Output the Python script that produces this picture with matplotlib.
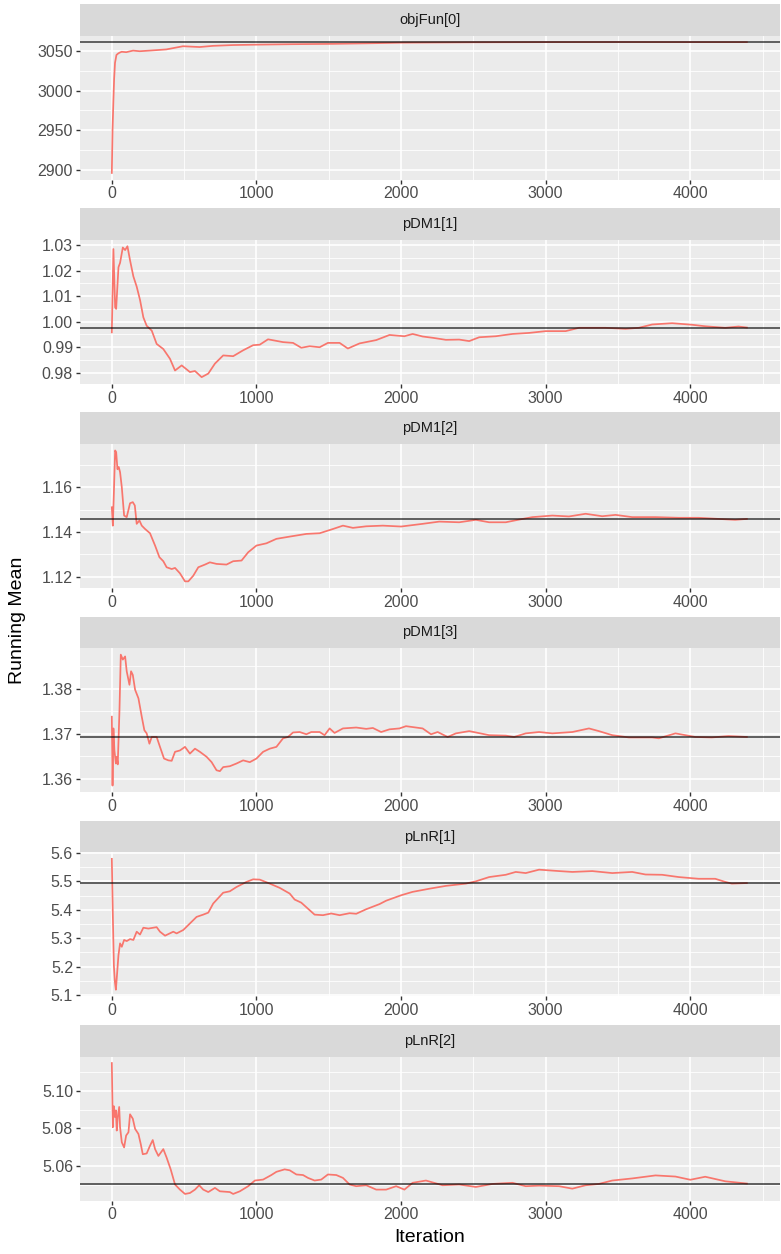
import numpy as np
import matplotlib
matplotlib.use("Agg")
import matplotlib.pyplot as plt
from matplotlib.ticker import MultipleLocator, FormatStrFormatter

plt.rcParams["font.family"] = ["Liberation Sans", "DejaVu Sans"]

# running means (iteration, value)
params = ["objFun[0]", "pDM1[1]", "pDM1[2]", "pDM1[3]", "pLnR[1]", "pLnR[2]"]
hlines = [3061.2, 0.9977, 1.1458, 1.3693, 5.494, 5.0509]

objfun_it = [0, 5, 11, 16, 22, 32, 45, 55, 68, 100, 147, 193, 262, 377, 492, 607, 700, 837,
             998, 1250, 1528, 1800, 2000, 2500, 3000, 3500, 4000, 4391]
objfun_val = [2896, 2950, 2988, 3015, 3035, 3045, 3047, 3048, 3049, 3048.5, 3050.5, 3049.7,
              3050.5, 3052, 3056, 3055, 3056.5, 3057.5, 3058, 3058.6, 3059, 3059.8, 3060.5,
              3061, 3061.2, 3061.3, 3061.2, 3061.2]

pdm1_it = [0, 11, 23, 30, 46, 57, 76, 92, 108, 126, 149, 172, 195, 218, 241, 276, 310, 356,
           402, 437, 483, 540, 575, 621, 667, 713, 770, 839, 908, 977, 1023, 1080, 1184, 1253,
           1310, 1368, 1437, 1494, 1575, 1632, 1713, 1828, 1920, 2023, 2080, 2149, 2218, 2310,
           2402, 2471, 2540, 2655, 2770, 2885, 3000, 3138, 3230, 3414, 3552, 3644, 3736, 3874,
           4011, 4103, 4241, 4333, 4391]
pdm1_val = [0.9958, 1.0284, 1.0056, 1.0050, 1.0213, 1.0230, 1.0290, 1.0280, 1.0295, 1.0240,
            1.0177, 1.0137, 1.0085, 1.0017, 0.9984, 0.9965, 0.9913, 0.9893, 0.9855, 0.9809,
            0.9829, 0.9803, 0.9807, 0.9783, 0.9797, 0.9836, 0.9868, 0.9865, 0.9888, 0.9908,
            0.9910, 0.9931, 0.9920, 0.9917, 0.9898, 0.9904, 0.9900, 0.9917, 0.9917, 0.9895,
            0.9915, 0.9928, 0.9948, 0.9943, 0.9952, 0.9942, 0.9937, 0.9929, 0.9930, 0.9924,
            0.9939, 0.9943, 0.9952, 0.9956, 0.9963, 0.9963, 0.9976, 0.9976, 0.9972, 0.9976,
            0.9989, 0.9994, 0.9988, 0.9982, 0.9976, 0.9981, 0.9977]

pdm2_it = [0, 7, 14, 23, 30, 39, 48, 57, 69, 85, 103, 126, 145, 159, 172, 191, 207, 230, 264,
           299, 329, 356, 379, 414, 437, 471, 506, 529, 563, 598, 644, 678, 724, 793, 839, 897,
           943, 1000, 1069, 1138, 1230, 1345, 1437, 1529, 1598, 1667, 1759, 1874, 2000, 2149,
           2264, 2402, 2517, 2609, 2724, 2816, 2908, 3046, 3161, 3276, 3391, 3483, 3598, 3759,
           3920, 4057, 4195, 4310, 4391]
pdm2_val = [1.1510, 1.1428, 1.1570, 1.1764, 1.1757, 1.1680, 1.1690, 1.1667, 1.1600, 1.1473,
            1.1466, 1.1528, 1.1533, 1.1518, 1.1436, 1.1451, 1.1428, 1.1413, 1.1394, 1.1339,
            1.1287, 1.1269, 1.1242, 1.1234, 1.1239, 1.1215, 1.1179, 1.1179, 1.1204, 1.1242,
            1.1254, 1.1264, 1.1257, 1.1254, 1.1269, 1.1272, 1.1309, 1.1339, 1.1349, 1.1369,
            1.1379, 1.1391, 1.1394, 1.1413, 1.1428, 1.1418, 1.1425, 1.1428, 1.1424, 1.1436,
            1.1446, 1.1443, 1.1454, 1.1443, 1.1443, 1.1455, 1.1466, 1.1473, 1.1469, 1.1481,
            1.1470, 1.1476, 1.1466, 1.1466, 1.1463, 1.1463, 1.1458, 1.1454, 1.1458]

pdm3_it = [0, 5, 11, 18, 28, 34, 41, 53, 62, 76, 92, 103, 122, 133, 145, 161, 184, 207, 225,
           241, 260, 276, 310, 333, 361, 391, 414, 437, 471, 506, 540, 575, 609, 655, 690, 724,
           747, 770, 816, 862, 908, 954, 1000, 1046, 1092, 1138, 1184, 1218, 1253, 1299, 1345,
           1379, 1437, 1471, 1506, 1540, 1598, 1690, 1759, 1805, 1862, 1920, 1989, 2034, 2149,
           2207, 2253, 2322, 2379, 2471, 2609, 2724, 2782, 2862, 2954, 3046, 3184, 3299, 3368,
           3460, 3575, 3736, 3782, 3897, 4034, 4149, 4264, 4391]
pdm3_val = [1.3738, 1.3585, 1.3712, 1.3663, 1.3634, 1.3649, 1.3632, 1.3753, 1.3876, 1.3865,
            1.3872, 1.3839, 1.3809, 1.3839, 1.3831, 1.3798, 1.3779, 1.3738, 1.3708, 1.3701,
            1.3678, 1.3693, 1.3693, 1.3671, 1.3645, 1.3641, 1.3640, 1.3660, 1.3663, 1.3671,
            1.3656, 1.3667, 1.3660, 1.3649, 1.3637, 1.3619, 1.3617, 1.3626, 1.3628, 1.3634,
            1.3641, 1.3637, 1.3645, 1.3660, 1.3667, 1.3671, 1.3690, 1.3693, 1.3703, 1.3704,
            1.3699, 1.3704, 1.3704, 1.3697, 1.3712, 1.3702, 1.3712, 1.3714, 1.3711, 1.3713,
            1.3704, 1.3710, 1.3712, 1.3717, 1.3712, 1.3699, 1.3704, 1.3693, 1.3701, 1.3706,
            1.3697, 1.3696, 1.3693, 1.3701, 1.3704, 1.3701, 1.3704, 1.3712, 1.3706, 1.3697,
            1.3692, 1.3692, 1.3690, 1.3701, 1.3693, 1.3692, 1.3695, 1.3693]

plnr1_it = [0, 7, 14, 21, 28, 34, 46, 57, 69, 85, 103, 126, 149, 172, 195, 218, 253, 287, 310,
            333, 368, 425, 448, 494, 540, 586, 632, 667, 701, 770, 816, 862, 931, 977, 1023,
            1092, 1161, 1230, 1264, 1310, 1402, 1460, 1517, 1575, 1644, 1690, 1759, 1851, 1897,
            2000, 2080, 2195, 2310, 2448, 2517, 2609, 2724, 2793, 2862, 2954, 3092, 3184, 3322,
            3460, 3598, 3690, 3805, 3920, 4057, 4172, 4241, 4287, 4391]
plnr1_val = [5.579, 5.381, 5.206, 5.148, 5.119, 5.159, 5.241, 5.282, 5.270, 5.294, 5.290, 5.297,
             5.294, 5.323, 5.313, 5.337, 5.334, 5.337, 5.339, 5.323, 5.309, 5.323, 5.317, 5.329,
             5.352, 5.375, 5.383, 5.390, 5.422, 5.460, 5.465, 5.480, 5.498, 5.507, 5.506, 5.492,
             5.477, 5.457, 5.436, 5.425, 5.383, 5.381, 5.387, 5.381, 5.388, 5.386, 5.402, 5.420,
             5.432, 5.451, 5.463, 5.474, 5.484, 5.492, 5.500, 5.515, 5.523, 5.533, 5.529, 5.541,
             5.536, 5.533, 5.536, 5.529, 5.533, 5.524, 5.523, 5.515, 5.509, 5.509, 5.498, 5.492,
             5.494]

plnr2_it = [0, 7, 14, 21, 28, 34, 41, 51, 57, 69, 85, 99, 115, 126, 145, 161, 184, 200, 214,
            241, 264, 283, 299, 322, 356, 379, 407, 437, 471, 506, 540, 575, 604, 632, 667, 713,
            747, 816, 839, 885, 943, 989, 1046, 1103, 1138, 1195, 1230, 1276, 1322, 1356, 1402,
            1448, 1494, 1552, 1598, 1644, 1690, 1759, 1828, 1897, 1966, 2023, 2080, 2172, 2287,
            2402, 2517, 2632, 2770, 2862, 2954, 3092, 3184, 3276, 3368, 3460, 3598, 3759, 3897,
            4000, 4103, 4241, 4391]
plnr2_val = [5.1146, 5.0807, 5.0918, 5.0861, 5.0896, 5.0789, 5.0861, 5.0914, 5.0807, 5.0727,
             5.0700, 5.0763, 5.0780, 5.0875, 5.0852, 5.0798, 5.0771, 5.0718, 5.0664, 5.0668,
             5.0709, 5.0739, 5.0691, 5.0655, 5.0691, 5.0646, 5.0584, 5.0504, 5.0477, 5.0454,
             5.0459, 5.0477, 5.0500, 5.0477, 5.0464, 5.0486, 5.0468, 5.0464, 5.0454, 5.0468,
             5.0495, 5.0525, 5.0530, 5.0554, 5.0571, 5.0584, 5.0579, 5.0557, 5.0554, 5.0539,
             5.0525, 5.0530, 5.0557, 5.0554, 5.0539, 5.0504, 5.0495, 5.0500, 5.0477, 5.0477,
             5.0495, 5.0477, 5.0513, 5.0525, 5.0500, 5.0504, 5.0491, 5.0507, 5.0513, 5.0495,
             5.0498, 5.0495, 5.0482, 5.0500, 5.0507, 5.0525, 5.0536, 5.0552, 5.0546, 5.0529,
             5.0545, 5.0521, 5.0509]

series = [(objfun_it, objfun_val), (pdm1_it, pdm1_val), (pdm2_it, pdm2_val),
          (pdm3_it, pdm3_val), (plnr1_it, plnr1_val), (plnr2_it, plnr2_val)]
y_steps = [50, 0.01, 0.02, 0.01, 0.1, 0.02]
y_fmts = ["%d", "%.2f", "%.2f", "%.2f", "%.1f", "%.2f"]

W, H = 781, 1254
fig = plt.figure(figsize=(W / 100, H / 100), dpi=100)

left, right = 80, 780
strip_h, panel_h, step = 31.5, 144, 204.2

for i, name in enumerate(params):
    top = 4 + i * step
    # strip
    sax = fig.add_axes([left / W, 1 - (top + strip_h) / H, (right - left) / W, strip_h / H])
    sax.set_facecolor("#D9D9D9")
    sax.set_xticks([])
    sax.set_yticks([])
    for s in sax.spines.values():
        s.set_visible(False)
    sax.text(0.5, 0.5, name, ha="center", va="center", fontsize=10.5, color="#1A1A1A",
             transform=sax.transAxes)

    ax = fig.add_axes([left / W, 1 - (top + strip_h + panel_h) / H, (right - left) / W, panel_h / H])
    ax.set_facecolor("#EBEBEB")
    for s in ax.spines.values():
        s.set_visible(False)

    it, val = series[i]
    ax.plot(it, val, color="#F8766D", lw=1.25, zorder=3)
    ax.axhline(hlines[i], color="black", alpha=0.6, lw=1.4, zorder=4)

    lo = min(min(val), hlines[i])
    hi = max(max(val), hlines[i])
    r = hi - lo
    ax.set_ylim(lo - 0.05 * r, hi + 0.05 * r)
    ax.set_xlim(-220, 4620)

    ax.xaxis.set_major_locator(MultipleLocator(1000))
    ax.xaxis.set_minor_locator(MultipleLocator(500))
    ax.yaxis.set_major_locator(MultipleLocator(y_steps[i]))
    ax.yaxis.set_minor_locator(MultipleLocator(y_steps[i] / 2))
    ax.yaxis.set_major_formatter(FormatStrFormatter(y_fmts[i]))
    ax.xaxis.set_major_formatter(FormatStrFormatter("%d"))

    ax.grid(which="major", color="white", lw=1.2, zorder=1)
    ax.grid(which="minor", color="white", lw=0.6, zorder=1)
    ax.set_axisbelow(True)
    ax.tick_params(which="major", length=3, width=1, color="#333333", labelcolor="#4D4D4D",
                   labelsize=11.5, pad=2)
    ax.tick_params(which="minor", length=0)

fig.text(18 / W, 1 - 620 / H, "Running Mean", rotation=90, ha="center", va="center",
         fontsize=14, color="black")
fig.text((left + right) / 2 / W, 1 - 1237 / H, "Iteration", ha="center", va="center",
         fontsize=14, color="black")

fig.savefig("out.png", dpi=100)
